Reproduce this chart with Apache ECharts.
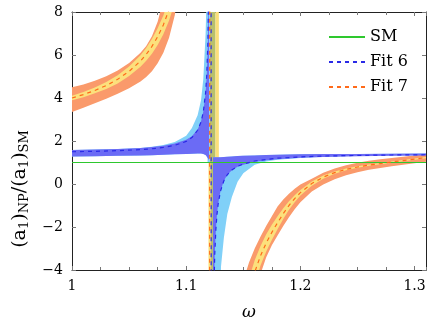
<!DOCTYPE html>
<html>
<head>
<meta charset="utf-8">
<script src="https://cdn.jsdelivr.net/npm/echarts@6/dist/echarts.min.js"></script>
<style>
html, body { margin: 0; padding: 0; background: #fff; }
#chart { width: 433px; height: 326px; }
</style>
</head>
<body>
<div id="chart"></div>
<script>
// axis ticks
var xTicks = [1, 1.1, 1.2, 1.3]
var yTicks = [-4, -2, 0, 2, 4, 6, 8]

// SM reference
var smOmega = [1, 1.31]
var smValue = [1, 1]

// Fit 7, left branch (below the pole)
var omega7L = [1.00, 1.01, 1.02, 1.03, 1.04, 1.05, 1.06, 1.065, 1.07, 1.075, 1.08, 1.085, 1.09, 1.095]
var fit7L = [4.00, 4.16, 4.35, 4.58, 4.87, 5.24, 5.72, 6.03, 6.40, 6.85, 7.40, 8.11, 9.04, 10.32]
var fit7OuterHiL = [4.50, 4.63, 4.80, 5.01, 5.28, 5.63, 6.10, 6.42, 6.87, 7.55, 8.55, 10.0, 12.0, 14.5]
var fit7OuterLoL = [3.35, 3.55, 3.76, 3.96, 4.20, 4.45, 4.77, 4.98, 5.25, 5.62, 6.10, 6.80, 7.85, 9.50]
var fit7InnerHiL = [4.10, 4.28, 4.49, 4.74, 5.06, 5.46, 5.99, 6.33, 6.74, 7.24, 7.84, 8.62, 9.64, 11.05]
var fit7InnerLoL = [3.90, 4.04, 4.22, 4.42, 4.68, 5.02, 5.45, 5.73, 6.06, 6.47, 6.96, 7.60, 8.44, 9.59]
// jump through the pole
var omega7Pole = [1.1205, 1.1207]
var fit7Pole = [200, -200]
// Fit 7, right branch
var omega7R = [1.15, 1.155, 1.16, 1.165, 1.17, 1.175, 1.18, 1.185, 1.19, 1.195, 1.20, 1.21, 1.22, 1.23, 1.24, 1.25, 1.26, 1.27, 1.28, 1.29, 1.30, 1.31]
var fit7R = [-6.5, -5.1, -4.1, -3.35, -2.75, -2.25, -1.8, -1.38, -1.0, -0.68, -0.40, 0.02, 0.32, 0.53, 0.68, 0.79, 0.88, 0.95, 1.02, 1.09, 1.16, 1.23]
var fit7OuterHiR = [-4.5, -3.65, -3.0, -2.45, -1.95, -1.5, -1.05, -0.72, -0.45, -0.22, -0.02, 0.25, 0.52, 0.72, 0.87, 0.99, 1.08, 1.15, 1.21, 1.27, 1.33, 1.39]
var fit7OuterLoR = [-11, -7.5, -5.2, -4.2, -3.42, -2.85, -2.4, -1.95, -1.55, -1.18, -0.85, -0.35, -0.02, 0.22, 0.41, 0.55, 0.66, 0.75, 0.83, 0.90, 0.97, 1.04]
var fit7InnerHiR = [-5.6, -4.4, -3.55, -2.9, -2.35, -1.9, -1.5, -1.13, -0.8, -0.52, -0.28, 0.12, 0.39, 0.58, 0.72, 0.82, 0.91, 0.98, 1.05, 1.12, 1.19, 1.26]
var fit7InnerLoR = [-7.5, -5.8, -4.7, -3.8, -3.15, -2.6, -2.1, -1.63, -1.2, -0.85, -0.53, -0.08, 0.25, 0.48, 0.64, 0.76, 0.85, 0.92, 0.99, 1.06, 1.13, 1.20]

// Fit 6, left branch
var omega6L = [1.00, 1.02, 1.04, 1.06, 1.07, 1.08, 1.09, 1.10, 1.105, 1.11, 1.113, 1.115, 1.117, 1.118, 1.119, 1.12]
var fit6L = [1.50, 1.52, 1.55, 1.60, 1.64, 1.70, 1.80, 1.98, 2.16, 2.50, 2.89, 3.35, 4.24, 5.08, 6.61, 10.3]
var fit6DarkHiL = [1.58, 1.60, 1.63, 1.68, 1.72, 1.78, 1.88, 2.06, 2.22, 2.54, 2.92, 3.37, 4.25, 5.09, 6.62, 10.3]
var fit6DarkLoL = [1.28, 1.29, 1.31, 1.33, 1.34, 1.36, 1.38, 1.40, 1.41, 1.42, 1.42, 1.40, 1.35, 1.28, 1.2, 1.1]
var fit6LightHiL = [1.58, 1.60, 1.63, 1.68, 1.73, 1.81, 1.95, 2.25, 2.6, 3.2, 3.9, 4.9, 7.0, 9.0, 12, 20]
var omega6Pole = [1.1215, 1.1222]
var fit6Pole = [60, -60]
// Fit 6, right branch
var omega6R = [1.1235, 1.124, 1.125, 1.126, 1.127, 1.128, 1.13, 1.133, 1.136, 1.14, 1.145, 1.15, 1.16, 1.17, 1.18, 1.20, 1.22, 1.25, 1.28, 1.31]
var fit6R = [-8.0, -5.66, -3.29, -2.11, -1.40, -0.93, -0.34, 0.15, 0.43, 0.65, 0.82, 0.93, 1.07, 1.14, 1.20, 1.26, 1.30, 1.33, 1.35, 1.36]
var fit6DarkHiR = [1.25, 1.24, 1.24, 1.24, 1.24, 1.24, 1.25, 1.26, 1.27, 1.28, 1.30, 1.31, 1.33, 1.35, 1.36, 1.38, 1.39, 1.40, 1.41, 1.42]
var fit6DarkLoR = [-8.0, -5.66, -3.29, -2.11, -1.40, -0.93, -0.34, 0.15, 0.43, 0.64, 0.80, 0.90, 1.03, 1.10, 1.15, 1.22, 1.26, 1.29, 1.31, 1.32]
var fit6LightLoR = [-40, -25, -15, -10, -7.5, -6, -4.1, -2.5, -1.4, -0.6, 0.1, 0.5, 0.9, 1.05, 1.13, 1.21, 1.27, 1.31, 1.33, 1.35]

// vertical strip left by the filled bands across the pole: [omegaFrom, omegaTo, yFrom, yTo]
var stripOlive = [[1.1207, 1.1257, 1, 8], [1.1212, 1.1273, -4, 1]]
var stripLightBlue = [[1.1187, 1.1207, 1, 8], [1.1273, 1.1303, -4, 1]]
var stripYellow = [[1.1257, 1.1286, 1, 8], [1.1195, 1.1212, -4, 1]]

var SERIF = "'DejaVu Serif', 'Liberation Serif', serif"

function pairs(xs, ys) {
  var out = []
  for (var i = 0; i < xs.length; i++) out.push([xs[i], ys[i]])
  return out
}

// filled band between two curves, drawn as one polygon
function band(omega, lo, hi, color, z) {
  return {
    type: 'custom',
    z: z,
    clip: true,
    silent: true,
    data: [[omega[0], lo[0]]],
    renderItem: function (params, api) {
      var pts = []
      for (var i = 0; i < omega.length; i++) pts.push(api.coord([omega[i], hi[i]]))
      for (var j = omega.length - 1; j >= 0; j--) pts.push(api.coord([omega[j], lo[j]]))
      return { type: 'polygon', shape: { points: pts }, style: { fill: color } }
    }
  }
}

function strip(rows, color, z) {
  return {
    type: 'custom',
    z: z,
    clip: true,
    silent: true,
    encode: { x: [0, 1], y: [2, 3] },
    data: rows,
    renderItem: function (params, api) {
      var a = api.coord([api.value(0), api.value(3)])
      var b = api.coord([api.value(1), api.value(2)])
      return { type: 'rect', shape: { x: a[0], y: a[1], width: b[0] - a[0], height: b[1] - a[1] }, style: { fill: color } }
    }
  }
}

function xAxisCfg(pos, step, len, labels) {
  return {
    type: 'value', min: 1, max: 1.31, interval: step, position: pos,
    axisLine: { show: labels !== null, onZero: false, lineStyle: { color: '#222', width: 1 } },
    axisTick: { show: true, inside: true, length: len, lineStyle: { color: '#777' } },
    splitLine: { show: false },
    axisLabel: labels ? {
      show: true, margin: 9, showMaxLabel: false,
      fontFamily: SERIF, fontSize: 14, color: '#000',
      formatter: function (v) { return xTicks.indexOf(Math.round(v * 10) / 10) >= 0 ? String(Math.round(v * 10) / 10) : '' }
    } : { show: false }
  }
}

var chart = echarts.init(document.getElementById('chart'))

var xBottom = xAxisCfg('bottom', 0.1, 4, true)
xBottom.name = 'ω'
xBottom.nameLocation = 'middle'
xBottom.nameGap = 34
xBottom.nameTextStyle = { fontFamily: SERIF, fontStyle: 'italic', fontSize: 17, color: '#000' }

chart.setOption({
  animation: false,
  grid: { left: 72, right: 7, top: 12, bottom: 49 },
  legend: {
    orient: 'vertical', left: 323, top: 24,
    itemWidth: 36, itemHeight: 14, itemGap: 9,
    itemStyle: { opacity: 0 },
    textStyle: { fontFamily: SERIF, fontSize: 16, color: '#000' },
    data: ['SM', 'Fit 6', 'Fit 7']
  },
  xAxis: [
    xBottom,
    xAxisCfg('bottom', 0.025, 3, null),
    xAxisCfg('top', 0.1, 4, false),
    xAxisCfg('top', 0.025, 3, null)
  ],
  yAxis: [{
    type: 'value', min: -4, max: 8, interval: 2, position: 'left',
    axisLine: { show: true, onZero: false, lineStyle: { color: '#222', width: 1 } },
    axisTick: { show: true, inside: true, length: 4, lineStyle: { color: '#777' } },
    splitLine: { show: false },
    axisLabel: {
      margin: 9, fontFamily: SERIF, fontSize: 14, color: '#000',
      formatter: function (v) { return v < 0 ? '\u2212' + (-v) : String(v) }
    },
    name: '{t|(a}{s|1}{t|)}{s|NP}{t|/(a}{s|1}{t|)}{s|SM}',
    nameLocation: 'middle',
    nameGap: 40,
    nameTextStyle: {
      align: 'center',
      padding: [0, 96, 0, 0],
      rich: {
        t: { fontFamily: SERIF, fontSize: 19, color: '#000', verticalAlign: 'middle', lineHeight: 22 },
        s: { fontFamily: SERIF, fontSize: 13, color: '#000', verticalAlign: 'bottom', lineHeight: 22 }
      }
    }
  }, {
    type: 'value', min: -4, max: 8, interval: 2, position: 'right',
    axisLine: { show: true, onZero: false, lineStyle: { color: '#222', width: 1 } },
    axisTick: { show: true, inside: true, length: 4, lineStyle: { color: '#777' } },
    splitLine: { show: false },
    axisLabel: { show: false }
  }],
  series: [
    strip(stripOlive, '#b8c06c', 1),
    strip(stripLightBlue, '#80d0f8', 1),
    strip(stripYellow, '#fbe07a', 1),
    band(omega7L, fit7OuterLoL, fit7OuterHiL, '#fa9a6b', 2),
    band(omega7R, fit7OuterLoR, fit7OuterHiR, '#fa9a6b', 2),
    band(omega7L, fit7InnerLoL, fit7InnerHiL, '#fce07c', 3),
    band(omega7R, fit7InnerLoR, fit7InnerHiR, '#fce07c', 3),
    band(omega6L, fit6DarkLoL, fit6LightHiL, '#80d0f8', 2),
    band(omega6R, fit6LightLoR, fit6DarkHiR, '#80d0f8', 2),
    band(omega6L, fit6DarkLoL, fit6DarkHiL, '#6b6bf5', 3),
    band(omega6R, fit6DarkLoR, fit6DarkHiR, '#6b6bf5', 3),
    {
      name: 'SM', type: 'line', z: 5, symbol: 'none',
      data: pairs(smOmega, smValue),
      lineStyle: { color: '#2ec82e', width: 1 },
      itemStyle: { color: '#2ec82e' }
    },
    {
      name: 'Fit 6', type: 'line', z: 6, symbol: 'none',
      data: pairs(omega6L.concat(omega6Pole, omega6R), fit6L.concat(fit6Pole, fit6R)),
      lineStyle: { color: '#2a2ae6', width: 1.2, type: [4, 4] },
      itemStyle: { color: '#2a2ae6' }
    },
    {
      name: 'Fit 7', type: 'line', z: 6, symbol: 'none',
      data: pairs(omega7L.concat(omega7Pole, omega7R), fit7L.concat(fit7Pole, fit7R)),
      lineStyle: { color: '#ff6a1a', width: 1.2, type: [4, 4] },
      itemStyle: { color: '#ff6a1a' }
    }
  ]
})
</script>
</body>
</html>
